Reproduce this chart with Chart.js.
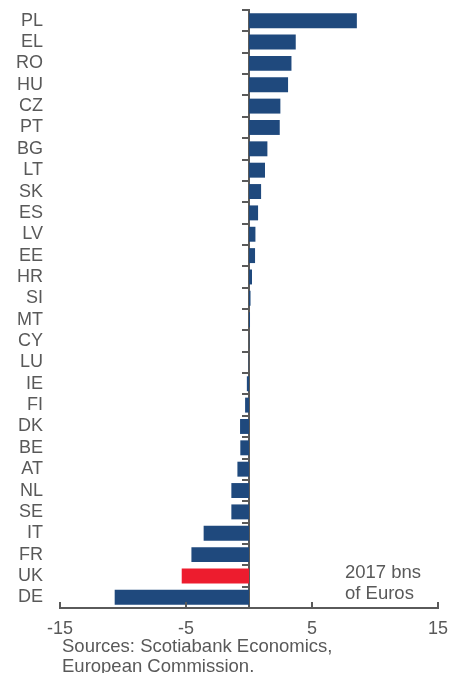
<!DOCTYPE html>
<html>
<head>
<meta charset="utf-8">
<script src="https://cdn.jsdelivr.net/npm/chart.js@4/dist/chart.umd.min.js"></script>
<style>
  body { margin: 0; background: #fff; }
  #wrap { position: relative; width: 450px; height: 673px; font-family: "Liberation Sans", Arial, sans-serif; color: #595959; }
  .note { position: absolute; font-size: 18.5px; white-space: nowrap; }
</style>
</head>
<body>
<div id="wrap">
  <canvas id="balanceChart" width="450" height="673"></canvas>
  <div class="note" style="left:345px; top:561px; line-height:21px;">2017 bns<br>of Euros</div>
  <div class="note" style="left:62px; top:636px; line-height:19.5px;">Sources: Scotiabank Economics,<br>European Commission.</div>
</div>
<script>
const countries = ['PL', 'EL', 'RO', 'HU', 'CZ', 'PT', 'BG', 'LT', 'SK', 'ES', 'LV', 'EE', 'HR', 'SI',
  'MT', 'CY', 'LU', 'IE', 'FI', 'DK', 'BE', 'AT', 'NL', 'SE', 'IT', 'FR', 'UK', 'DE'];
const netBalance = [8.56, 3.71, 3.37, 3.10, 2.49, 2.44, 1.46, 1.27, 0.96, 0.72, 0.51, 0.48, 0.24, 0.12,
  0.08, 0.02, -0.02, -0.17, -0.31, -0.71, -0.69, -0.92, -1.40, -1.40, -3.60, -4.57, -5.34, -10.66];
const xTickValues = [-15, -5, 5, 15];
const highlight = 'UK';

const gray = '#595959';
const axisGray = '#5a5a5a';
const labelFont = { family: 'Liberation Sans', size: 18 };

// small upward tick marks on the value axis
const upTicks = {
  id: 'upTicks',
  afterDraw(chart) {
    const x = chart.scales.x;
    const c = chart.ctx;
    c.save();
    c.strokeStyle = axisGray;
    c.lineWidth = 2;
    x.ticks.forEach(t => {
      const px = Math.round(x.getPixelForValue(t.value));
      c.beginPath();
      c.moveTo(px, x.top);
      c.lineTo(px, x.top - 6);
      c.stroke();
    });
    c.restore();
  }
};

new Chart(document.getElementById('balanceChart'), {
  type: 'bar',
  data: {
    labels: countries,
    datasets: [{
      data: netBalance,
      backgroundColor: countries.map(c => c === highlight ? '#ed1c2e' : '#1f497d'),
      borderWidth: 0,
      categoryPercentage: 1,
      barPercentage: 0.7
    }]
  },
  options: {
    indexAxis: 'y',
    responsive: false,
    animation: false,
    layout: { padding: { top: 10, right: 12, bottom: 25, left: 0 } },
    plugins: {
      legend: { display: false },
      tooltip: { enabled: false }
    },
    scales: {
      x: {
        min: -15,
        max: 15,
        afterBuildTicks: s => { s.ticks = xTickValues.map(v => ({ value: v })); },
        afterFit: s => { s.height = 40; s.paddingLeft = 0; s.paddingRight = 0; },
        ticks: { color: gray, font: labelFont, padding: 10, maxRotation: 0 },
        grid: { display: false, drawTicks: false },
        border: { display: true, color: axisGray, width: 2 }
      },
      y: {
        afterFit: s => { s.width = 60; s.paddingTop = 0; s.paddingBottom = 0; },
        ticks: { color: gray, font: labelFont, padding: 17, autoSkip: false },
        grid: { display: false, drawTicks: false },
        border: { display: false }
      },
      y2: {
        type: 'category',
        labels: countries,
        position: { x: 0 },
        offset: true,
        z: 1,
        afterFit: s => { s.paddingTop = 0; s.paddingBottom = 0; },
        ticks: { display: false },
        grid: { offset: true, drawOnChartArea: false, drawTicks: true, tickLength: 6, color: axisGray, lineWidth: 2 },
        border: { display: true, color: axisGray, width: 2 }
      }
    }
  },
  plugins: [upTicks]
});
</script>
</body>
</html>
